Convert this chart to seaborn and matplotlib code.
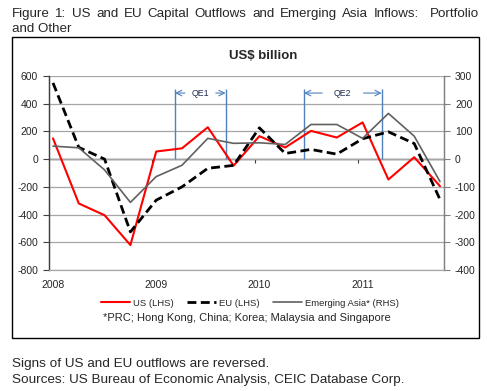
import matplotlib
matplotlib.use("Agg")
import matplotlib.pyplot as plt
import matplotlib.patches as mpatches
import pandas as pd
import seaborn as sns

# quarterly data, 2008Q1 .. 2011Q4 (US$ billion)
quarter_idx = list(range(16))
year_ticks = [0, 4, 8, 12]
year_labels = ["2008", "2009", "2010", "2011"]
us_lhs = [150, -320, -405, -620, 55, 78, 230, -47, 166, 84, 204, 156, 265, -147, 14, -195]
eu_lhs = [550, 85, 0, -525, -296, -200, -66, -45, 226, 41, 70, 36, 147, 197, 113, -291]
asia_rhs = [47, 41, -39, -156, -63, -22, 75, 57, 59, 53, 125, 125, 75, 165, 83, -81]

# QE periods (in quarter index units) and label
qe_names = ["QE1", "QE2"]
qe_start = [4.73, 9.73]
qe_end = [6.69, 12.74]
qe_top = 505
qe_arrow_y = 477

df = pd.DataFrame({"q": quarter_idx, "us": us_lhs, "eu": eu_lhs, "asia": asia_rhs})

sns.set_style("white")
plt.rcParams["font.family"] = ["Liberation Sans", "DejaVu Sans"]
plt.rcParams["axes.unicode_minus"] = False

fig = plt.figure(figsize=(5.0, 3.91), dpi=100)
ax = fig.add_axes([49 / 500, 1 - 270 / 391, 395 / 500, 194 / 391])
ax2 = ax.twinx()

# grid + axes styling
ax.set_ylim(-800, 600)
ax2.set_ylim(-400, 300)
ax.set_xlim(-0.155, 15.155)
ax.set_yticks(range(-800, 601, 200))
ax2.set_yticks(range(-400, 301, 100))
ax.yaxis.grid(True, color="#a6a6a6", lw=0.9)
ax.set_axisbelow(True)
for a in (ax, ax2):
    a.spines["top"].set_visible(False)
    a.spines["bottom"].set_color("#a6a6a6")
    a.spines["left"].set_color("#404040")
    a.spines["right"].set_color("#808080")
    a.spines["left"].set_linewidth(0.9)
    a.spines["right"].set_linewidth(0.9)
ax.tick_params(axis="y", length=4.3, width=0.8, color="#404040", pad=3.6, labelsize=7.5)
ax2.tick_params(axis="y", length=4.3, width=0.8, color="#808080", pad=3.6, labelsize=7.5)
ax.set_xticks(year_ticks, labels=year_labels)
ax.tick_params(axis="x", length=0, pad=7, labelsize=7.5)

# zero line with the year tick marks hanging below it
zero_frac = (0 - ax.get_ylim()[0]) / (ax.get_ylim()[1] - ax.get_ylim()[0])
sec = ax.secondary_xaxis(zero_frac)
sec.set_alignment("bottom")
sec.set_xticks([t - 0.17 for t in year_ticks[1:]], labels=[])
sec.tick_params(length=3, width=0.8, color="#404040", direction="out")
for s in sec.spines.values():
    s.set_color("#404040")
    s.set_linewidth(1.0)

# QE markers
for name, x0, x1 in zip(qe_names, qe_start, qe_end):
    ax.vlines([x0, x1], 0, qe_top, color="#4f81bd", lw=1.0)
    mid = (x0 + x1) / 2
    gap = 0.6 if name == "QE1" else 0.8
    ax.annotate("", xy=(x0, qe_arrow_y), xytext=(mid - gap, qe_arrow_y),
                arrowprops=dict(arrowstyle="->", color="#4f81bd", lw=0.8,
                                shrinkA=0, shrinkB=0))
    ax.annotate("", xy=(x1, qe_arrow_y), xytext=(mid + gap, qe_arrow_y),
                arrowprops=dict(arrowstyle="->", color="#4f81bd", lw=0.8,
                                shrinkA=0, shrinkB=0))
    ax.text(mid, qe_arrow_y, name, ha="center", va="center", fontsize=6.3, color="#1f2a4f")

# series
sns.lineplot(data=df, x="q", y="us", ax=ax, color="#ff0000", lw=1.5, label="US (LHS)", legend=False)
sns.lineplot(data=df, x="q", y="eu", ax=ax, color="black", lw=2.0,
             linestyle=(0, (3.2, 1.6)), label="EU (LHS)", legend=False)
sns.lineplot(data=df, x="q", y="asia", ax=ax2, color="#606060", lw=1.2,
             label="Emerging Asia* (RHS)", legend=False)
ax.set_xlabel("")
ax.set_ylabel("")
ax2.set_ylabel("")

handles = [ax.lines[-2], ax.lines[-1], ax2.lines[-1]]
fig.legend(handles, [h.get_label() for h in handles], loc="center", ncol=3,
           bbox_to_anchor=(250 / 500, 1 - 303 / 391), frameon=False, fontsize=6.8,
           handlelength=3.1, handletextpad=0.3, columnspacing=1.4)

# chart frame and texts
fig.patches.append(mpatches.Rectangle((12 / 500, 1 - 338 / 391), 467 / 500, 301 / 391,
                                      transform=fig.transFigure, fill=False, ec="black", lw=1.0))
fig.text(263 / 500, 1 - 56 / 391, "US$ billion", ha="center", va="center",
         fontsize=9.5, fontweight="bold")
fig.text(247 / 500, 1 - 318 / 391, "*PRC; Hong Kong, China; Korea; Malaysia and Singapore",
         ha="center", va="center", fontsize=8)

# justified first title line across the chart frame width
title_line1 = "Figure 1: US and EU Capital Outflows and Emerging Asia Inflows:  Portfolio"
tokens = title_line1.split(" ")
word_texts = [fig.text(0, 1 - 14 / 391, w, ha="left", va="center", fontsize=9.6) for w in tokens]
renderer = fig.canvas.get_renderer()
widths = [t.get_window_extent(renderer).width if t.get_text() else 0 for t in word_texts]
space = (467 - sum(widths)) / (len(tokens) - 1)
xpos = 12.0
for t, w in zip(word_texts, widths):
    t.set_x(xpos / 500)
    xpos += w + space
fig.text(12 / 500, 1 - 29 / 391, "and Other", ha="left", va="center", fontsize=9.6)
fig.text(12 / 500, 1 - 364 / 391, "Signs of US and EU outflows are reversed.",
         ha="left", va="center", fontsize=9.7)
fig.text(12 / 500, 1 - 380 / 391, "Sources: US Bureau of Economic Analysis, CEIC Database Corp.",
         ha="left", va="center", fontsize=9.7)

fig.savefig("out.png", dpi=100, facecolor="white")
